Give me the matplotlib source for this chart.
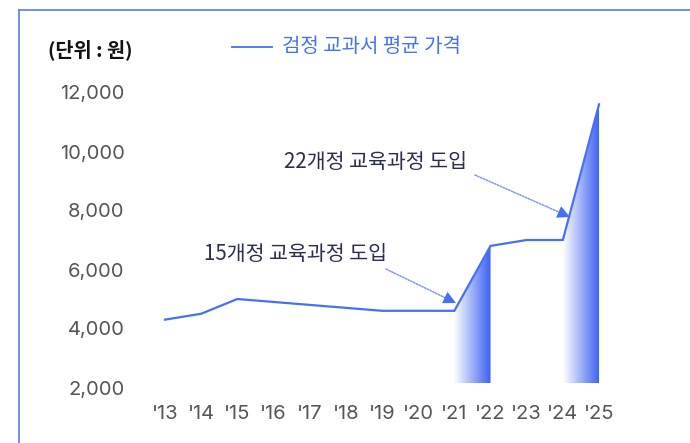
import matplotlib
matplotlib.use("Agg")
import matplotlib.pyplot as plt
import numpy as np
from matplotlib.lines import Line2D
from matplotlib.patches import Polygon
from matplotlib.colors import LinearSegmentedColormap

plt.rcParams['font.family'] = ['Noto Sans CJK KR', 'DejaVu Sans']

years = ["'13", "'14", "'15", "'16", "'17", "'18", "'19", "'20", "'21", "'22", "'23", "'24", "'25"]
prices = [4300, 4500, 5000, 4900, 4800, 4700, 4600, 4600, 4600, 6800, 7000, 7000, 11600]
yticks = [2000, 4000, 6000, 8000, 10000, 12000]
ytick_labels = ["2,000", "4,000", "6,000", "8,000", "10,000", "12,000"]
shaded_segments = [8, 11]  # start index of segments with gradient fill
annotations = ["15개정 교육과정 도입", "22개정 교육과정 도입"]

BLUE = "#4670f5"
W, H = 690, 443
fig = plt.figure(figsize=(W / 100, H / 100), dpi=100)

# axes placement
x_left_px, x_right_px = 140, 620
x0px, dx = 165, 36.17
y2000px, dy = 387.5, 29.5
xlim = ((x_left_px - x0px) / dx, (x_right_px - x0px) / dx)
ylim = (1700, 12200)
top_px = y2000px - dy * (ylim[1] - 2000) / 1000
bot_px = y2000px + dy * (2000 - ylim[0]) / 1000
ax = fig.add_axes([x_left_px / W, 1 - bot_px / H, (x_right_px - x_left_px) / W, (bot_px - top_px) / H])
ax.set_xlim(*xlim)
ax.set_ylim(*ylim)

x = np.arange(len(years))
ax.plot(x, prices, color=BLUE, lw=1.6, zorder=3, solid_joinstyle='miter')

# gradient fills
cmap = LinearSegmentedColormap.from_list("g", ["#ffffff", "#3a60f2"])
fill_bottom = 2150
grad = np.linspace(0, 1, 256).reshape(1, -1)
for i in shaded_segments:
    poly = Polygon([(x[i], fill_bottom), (x[i], prices[i]), (x[i + 1], prices[i + 1]), (x[i + 1], fill_bottom)],
                   closed=True, facecolor='none', edgecolor='none')
    ax.add_patch(poly)
    im = ax.imshow(grad, cmap=cmap, aspect='auto', extent=[x[i], x[i + 1], fill_bottom, max(prices[i], prices[i + 1])],
                   zorder=2, interpolation='bicubic')
    im.set_clip_path(poly)

ax.set_xticks(x)
ax.set_xticklabels(years)
ax.set_yticks(yticks)
ax.set_yticklabels(ytick_labels)
ax.tick_params(axis='both', length=0, labelsize=14.5, colors="#555555")
ax.tick_params(axis='y', pad=11)
ax.tick_params(axis='x', pad=6)
for lbl in ax.get_xticklabels() + ax.get_yticklabels():
    lbl.set_fontfamily(['Inter', 'DejaVu Sans'])
for s in ax.spines.values():
    s.set_visible(False)

# annotations (arrow start, arrow tip, text position)
def px2d(px, py):
    return ((px - x0px) / dx, 2000 + (y2000px - py) / dy * 1000)

ann_specs = [
    (annotations[0], px2d(295, 254), px2d(386, 269), px2d(456, 303)),
    (annotations[1], px2d(375, 162), px2d(475, 175), px2d(570, 217)),
]
for text, tpos, start, tip in ann_specs:
    ax.text(tpos[0], tpos[1], text, ha='center', va='center', fontsize=14.8, color="#2b2d4e", zorder=5)
    ax.annotate("", xy=tip, xytext=start,
                arrowprops=dict(arrowstyle="-", linestyle=(0, (1, 1)), color="#7b95f5", lw=1.1,
                                shrinkA=0, shrinkB=6), zorder=4)
    ax.annotate("", xy=tip, xytext=(tip[0] - (tip[0] - start[0]) * 0.15, tip[1] - (tip[1] - start[1]) * 0.15),
                arrowprops=dict(arrowstyle="-|>,head_length=0.9,head_width=0.45", color=BLUE, lw=0,
                                shrinkA=0, shrinkB=0), zorder=4)

# legend and unit
fig.add_artist(Line2D([232 / W, 272 / W], [1 - 47 / H, 1 - 47 / H], color=BLUE, lw=1.3))
fig.text(282 / W, 1 - 46 / H, "검정 교과서 평균 가격", color=BLUE, fontsize=14.4, va='center', ha='left')
fig.text(48 / W, 1 - 50 / H, "(단위 : 원)", color="#111111", fontsize=14.2, fontweight='bold', va='center', ha='left')

# frame lines
fig.add_artist(Line2D([18.5 / W, 18.5 / W], [0, 1 - 10 / H], color="#5a7cf0", lw=1.2))
fig.add_artist(Line2D([18.5 / W, 1], [1 - 10 / H, 1 - 10 / H], color="#5a7cf0", lw=1.2))

fig.savefig("out.png", dpi=100)
